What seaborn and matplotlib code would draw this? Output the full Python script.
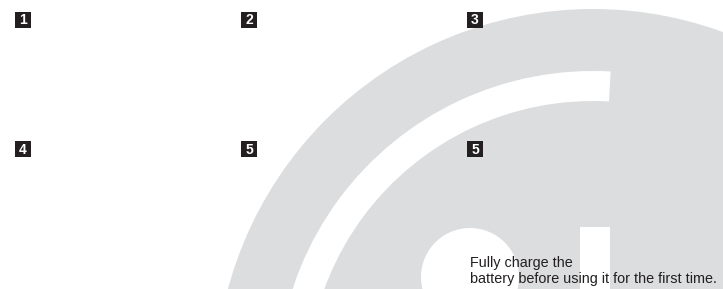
import matplotlib
matplotlib.use("Agg")
import matplotlib.pyplot as plt
from matplotlib.patches import Circle, Wedge, Rectangle
import seaborn as sns

# step markers on the page (label, column, row of the 3x2 grid)
step_labels = ["1", "2", "3", "4", "5", "5"]
step_cols = [0, 1, 2, 0, 1, 2]
step_rows = [0, 0, 0, 1, 1, 1]

caption_lines = ["Fully charge the", "battery before using it for the first time."]

GREY = "#dcdddf"
INK = "#231f20"

sns.set_style("white")
plt.rcParams["font.family"] = ["Liberation Sans", "DejaVu Sans"]

fig = plt.figure(figsize=(7.23, 2.89), dpi=100)
ax = fig.add_axes([0, 0, 1, 1])

# background battery/power graphic (pixel coordinates, y axis inverted,
# so wedge angles run clockwise on screen)
ax.add_patch(Circle((593, 387), 378, facecolor=GREY, edgecolor="none", zorder=1))
ax.add_patch(Wedge((593, 387), 316, 160, 273.2, width=30,
                   facecolor="white", edgecolor="none", zorder=2))
ax.add_patch(Circle((470, 277), 49, facecolor="white", edgecolor="none", zorder=2))
ax.add_patch(Rectangle((580, 227), 30, 80, facecolor="white", edgecolor="none", zorder=2))

# step boxes
box_x = [23 + 226 * c for c in step_cols]
box_y = [19.5 + 129.5 * r for r in step_rows]
sns.scatterplot(x=box_x, y=box_y, marker="s", s=118, color=INK,
                linewidth=0, legend=False, ax=ax, zorder=3)
for x, y, lab in zip(box_x, box_y, step_labels):
    ax.text(x, y + 0.5, lab, color="white", fontsize=10, fontweight="bold",
            ha="center", va="center", zorder=4)

# caption
for i, line in enumerate(caption_lines):
    ax.text(470, 267.5 + 16 * i, line, color=INK, fontsize=10.4,
            ha="left", va="baseline", zorder=5)

ax.set_xlim(0, 723)
ax.set_ylim(289, 0)
ax.axis("off")

fig.savefig("out.png", dpi=100)
